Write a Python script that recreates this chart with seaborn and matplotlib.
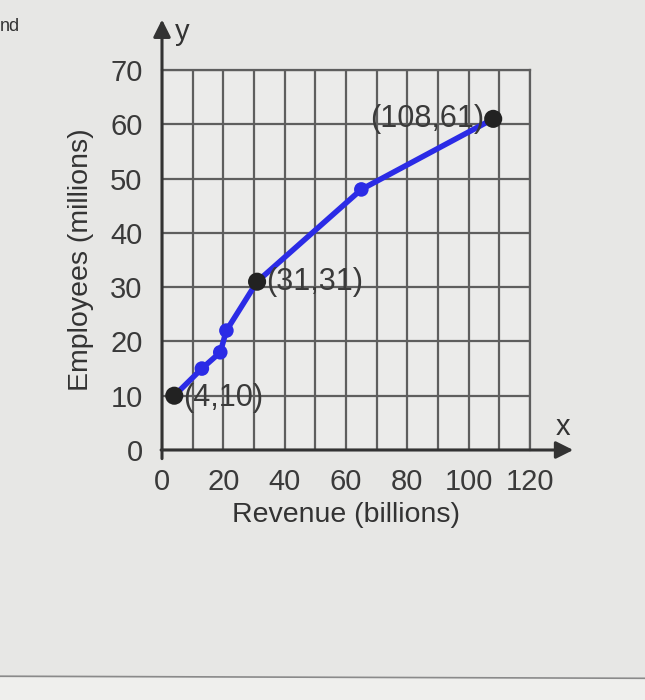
import matplotlib
matplotlib.use("Agg")
import matplotlib.pyplot as plt
import seaborn as sns
import pandas as pd
from matplotlib.lines import Line2D

# data
revenue = [4, 13, 19, 21, 31, 65, 108]
employees = [10, 15, 18, 22, 31, 48, 61]
labeled_idx = [0, 4, 6]
label_text = ["(4,10)", "(31,31)", "(108,61)"]
x_major = list(range(0, 121, 20))
x_minor = list(range(10, 121, 20))
y_ticks = list(range(0, 71, 10))

df = pd.DataFrame({"revenue": revenue, "employees": employees})
df["kind"] = ["label" if i in labeled_idx else "plain" for i in range(len(df))]

sns.set_style("white")
plt.rcParams["font.family"] = ["Liberation Sans", "DejaVu Sans"]

bg = "#e7e7e5"
fig = plt.figure(figsize=(6.45, 7.0), dpi=100, facecolor=bg)
ax = fig.add_axes([162 / 645, 1 - 450 / 700, 368 / 645, 380 / 700])
ax.set_facecolor("#ebebea")

sns.lineplot(data=df, x="revenue", y="employees", sort=False, estimator=None,
             color="#2b2be6", lw=4, ax=ax, zorder=3)
sns.scatterplot(data=df[df.kind == "plain"], x="revenue", y="employees",
                color="#2b2be6", s=110, edgecolor="none", ax=ax, zorder=4)
sns.scatterplot(data=df[df.kind == "label"], x="revenue", y="employees",
                color="#222222", s=170, edgecolor="none", ax=ax, zorder=5)

ax.set_xlim(0, 120)
ax.set_ylim(0, 70)
ax.set_xticks(x_major)
ax.set_xticks(x_minor, minor=True)
ax.set_yticks(y_ticks)
ax.grid(True, which="both", color="#5e5e5e", lw=1.6)
for s in ["top", "right"]:
    ax.spines[s].set_color("#5e5e5e")
    ax.spines[s].set_linewidth(1.6)
ax.spines["left"].set_visible(False)
ax.spines["bottom"].set_visible(False)
ax.tick_params(axis="both", direction="out", length=10, width=2, color="#3a3a3a",
               labelsize=21, labelcolor="#3a3a3a", pad=1)
ax.tick_params(axis="y", pad=4)
ax.tick_params(axis="x", which="minor", length=5, width=2, color="#3a3a3a")
ax.tick_params(axis="x", which="major", pad=3)

ax.set_xlabel("Revenue (billions)", fontsize=20.5, color="#333333", labelpad=4)
ax.set_ylabel("Employees (millions)", fontsize=20.5, color="#333333", labelpad=12)

# axes with arrows
ax.annotate("", xy=(1.125, 0), xytext=(-0.01, 0), xycoords="axes fraction",
            arrowprops=dict(arrowstyle="-|>", mutation_scale=26, lw=2.2, color="#333333"),
            annotation_clip=False, zorder=6)
ax.annotate("", xy=(0, 1.14), xytext=(0, -0.03), xycoords="axes fraction",
            arrowprops=dict(arrowstyle="-|>", mutation_scale=26, lw=2.2, color="#333333"),
            annotation_clip=False, zorder=6)
ax.text(1.09, 0.06, "x", transform=ax.transAxes, fontsize=21, color="#333333",
        ha="center", va="center")
ax.text(0.055, 1.1, "y", transform=ax.transAxes, fontsize=21, color="#333333",
        ha="center", va="center")

# point labels
offsets = [(3, -0.5, "left"), (3, 0, "left"), (-3, 0, "right")]
for i, txt, (dx, dy, ha) in zip(labeled_idx, label_text, offsets):
    ax.text(revenue[i] + dx, employees[i] + dy, txt, fontsize=22, color="#3a3a3a",
            ha=ha, va="center", zorder=4)

# bits of the photo around the chart
fig.text(0.0, 0.962, "nd", fontsize=13, color="#333333", ha="left", va="center")
fig.add_artist(Line2D([0, 1], [0.034, 0.031], color="#8a8a8a", lw=1.2))
fig.patches.append(plt.Rectangle((0, 0), 1, 0.032, transform=fig.transFigure,
                                 color="#efefed", zorder=-1))

fig.savefig("out.png", dpi=100, facecolor=bg)
